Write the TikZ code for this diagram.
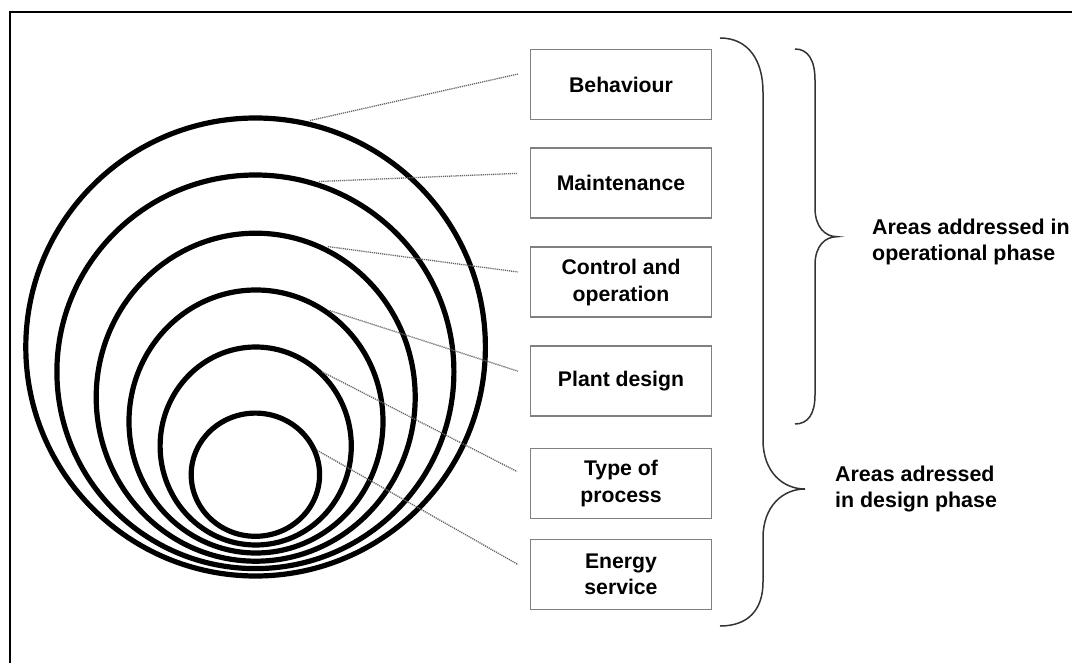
\documentclass[tikz,border=0pt]{standalone}
\usepackage{fontspec}
\setmainfont{Liberation Sans}
\begin{document}
\begin{tikzpicture}[x=1pt,y=-1pt,
  ring/.style={draw=black,line width=5.2pt},
  box/.style={draw=black!50,line width=1.6pt,minimum width=181pt,minimum height=70pt,inner sep=0pt,align=center,font=\bfseries\fontsize{21.2}{26.5}\selectfont},
  lbl/.style={inner sep=0pt,align=left,anchor=west,font=\bfseries\fontsize{21.4}{26}\selectfont},
  leader/.style={draw=black!60,line width=1.3pt,dash pattern=on 1.2pt off 0.9pt},
  brace/.style={draw=black!80,line width=1.5pt}]
\useasboundingbox (0,0) rectangle (1072,663);
\fill[white] (0,0) rectangle (1072,663);
% frame
\draw[line width=2pt] (10,663) -- (10,12) -- (1072,12);
% rings
\draw[ring] (255.6,347) ellipse [x radius=229.8pt, y radius=229pt];
\draw[ring] (255.4,371.8) ellipse [x radius=198.5pt, y radius=196.8pt];
\draw[ring] (255.7,397.2) ellipse [x radius=159.5pt, y radius=164pt];
\draw[ring] (256,421.5) ellipse [x radius=127pt, y radius=131.5pt];
\draw[ring] (255.7,446) ellipse [x radius=95.6pt, y radius=99pt];
\draw[ring] (255.4,474.7) ellipse [x radius=64.2pt, y radius=61.6pt];
% boxes
\node[box] (b1) at (621,84.5) {Behaviour};
\node[box] (b2) at (621,183.3) {Maintenance};
\node[box] (b3) at (621,282.3) {Control and\\operation};
\node[box] (b4) at (621,381) {Plant design};
\node[box] (b5) at (621,483.3) {Type of\\process};
\node[box] (b6) at (621,574.3) {Energy\\service};
% leader line endpoints
\coordinate (p1) at (310,120.5);
\coordinate (p2) at (319,181.5);
\coordinate (p3) at (328,246.6);
\coordinate (p4) at (329.5,310.5);
\coordinate (p5) at (322.5,372);
\coordinate (p6) at (317,450.3);
\coordinate (q1) at (518,74);
\coordinate (q2) at (517,173.4);
\coordinate (q3) at (518,272);
\coordinate (q4) at (518,371.2);
\coordinate (q5) at (517,471.5);
\coordinate (q6) at (518,564.5);
\foreach \i in {1,...,6} \draw[leader] (p\i) -- (q\i);
% braces
\coordinate (bigtip) at (805,489);
\coordinate (smalltip) at (837,236.7);
\draw[brace] (720,38) .. controls (748,38) and (763,60) .. (763,92)
  -- (763,440) .. controls (763,472) and (783,489) .. (bigtip)
  .. controls (783,489) and (763,506) .. (763,538)
  -- (763,582) .. controls (763,610) and (748,626) .. (720,626);
\draw[brace] (795,49) .. controls (808,49) and (815,60) .. (815,80)
  -- (815,208) .. controls (815,227) and (825,236.7) .. (smalltip)
  .. controls (825,236.7) and (815,246) .. (815,265)
  -- (815,395) .. controls (815,414) and (808,424) .. (795,424);
% labels
\node[lbl] (t1) at (872,242) {Areas addressed in\\operational phase};
\node[lbl] (t2) at (835,489.5) {Areas adressed\\in design phase};
\end{tikzpicture}
\end{document}
